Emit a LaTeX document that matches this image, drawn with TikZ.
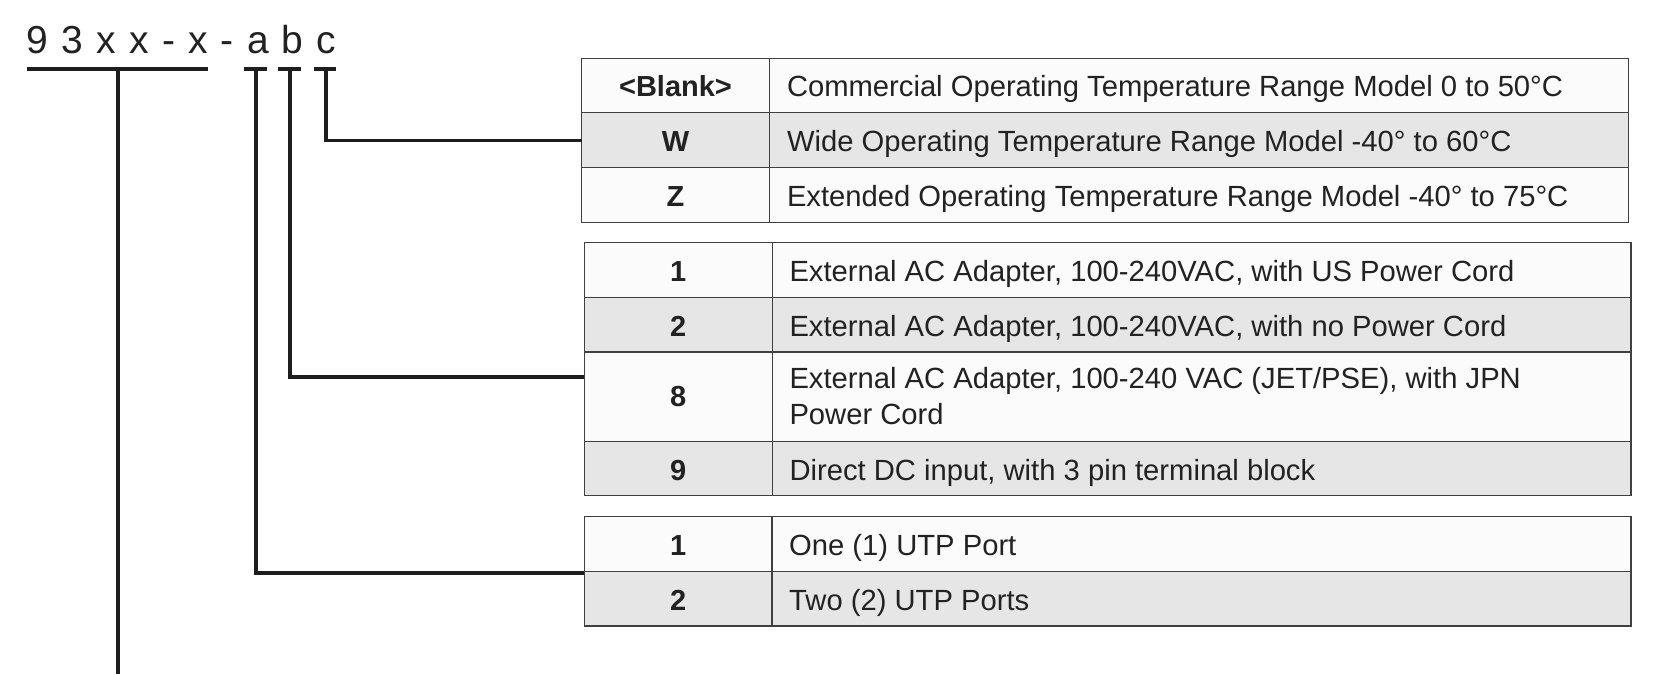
\documentclass[tikz,border=0pt]{standalone}
\usepackage{fontspec}
\setmainfont{Liberation Sans}
\definecolor{bordc}{HTML}{404040}
\definecolor{rowgray}{HTML}{E6E6E6}
\definecolor{rowwhite}{HTML}{FBFBFB}
\definecolor{inkc}{HTML}{222222}
\definecolor{connc}{HTML}{1E1E1E}
\newcommand\myheadfont{\fontsize{39}{44}\selectfont\spaceskip 13.2pt\relax}
\tikzset{
  cellbox/.style={draw=bordc, line width=1.5pt, inner sep=0pt, outer sep=0pt, anchor=north west},
  wcell/.style={cellbox, fill=rowwhite},
  gcell/.style={cellbox, fill=rowgray},
  codetxt/.style={inner sep=0pt, anchor=base, text=inkc, font=\fontsize{29}{36}\selectfont\bfseries},
  desctxt/.style={inner sep=0pt, anchor=base west, text=inkc, font=\fontsize{29.2}{36}\selectfont},
  conn/.style={draw=connc, line width=3.4pt, line cap=butt, line join=miter},
  uline/.style={draw=connc, line width=3.2pt},
  headtxt/.style={inner sep=0pt, anchor=base west, text=inkc, font=\myheadfont}
}
\begin{document}
\begin{tikzpicture}[x=1pt,y=-1pt]
\useasboundingbox[fill=white] (0,0) rectangle (1663,674);

% header
\node[headtxt] (head) at (26.7,53.3) {9 3 x x - x - a b c};

% underline end points
\coordinate (um1) at (26.7,69);  \coordinate (um2) at (208.3,69);
\coordinate (ua1) at (244,69);   \coordinate (ua2) at (267,69);
\coordinate (ub1) at (278,69);   \coordinate (ub2) at (301,69);
\coordinate (uc1) at (314,69);   \coordinate (uc2) at (336,69);
\coordinate (um) at (118,69);
\coordinate (ua) at (256,69);
\coordinate (ub) at (290,69);
\coordinate (uc) at (326,69);
\coordinate (mend) at (118,674);

% ---------- table 1 ----------
\node[wcell, minimum width=187.6pt, minimum height=54pt] (t1r1l) at (581.7,58.3) {};
\node[wcell, minimum width=859pt,   minimum height=54pt] (t1r1r) at (769.3,58.3) {};
\node[gcell, minimum width=187.6pt, minimum height=55pt] (t1r2l) at (581.7,112.3) {};
\node[gcell, minimum width=859pt,   minimum height=55pt] (t1r2r) at (769.3,112.3) {};
\node[wcell, minimum width=187.6pt, minimum height=55pt] (t1r3l) at (581.7,167.3) {};
\node[wcell, minimum width=859pt,   minimum height=55pt] (t1r3r) at (769.3,167.3) {};

\node[codetxt] (c11) at (675.5,97) {<Blank>};
\node[desctxt] (d11) at (786.8,97) {Commercial Operating Temperature Range Model 0 to 50°C};
\node[codetxt] (c12) at (675.5,151.5) {W};
\node[desctxt] (d12) at (786.8,151.5) {Wide Operating Temperature Range Model -40° to 60°C};
\node[codetxt] (c13) at (675.5,206.5) {Z};
\node[desctxt] (d13) at (786.8,206.5) {Extended Operating Temperature Range Model -40° to 75°C};

% ---------- table 2 ----------
\node[wcell, minimum width=188pt,   minimum height=55pt] (t2r1l) at (584.3,242.5) {};
\node[wcell, minimum width=858.7pt, minimum height=55pt] (t2r1r) at (772.3,242.5) {};
\node[gcell, minimum width=188pt,   minimum height=54.5pt] (t2r2l) at (584.3,297.5) {};
\node[gcell, minimum width=858.7pt, minimum height=54.5pt] (t2r2r) at (772.3,297.5) {};
\node[wcell, minimum width=188pt,   minimum height=89.7pt] (t2r3l) at (584.3,352) {};
\node[wcell, minimum width=858.7pt, minimum height=89.7pt] (t2r3r) at (772.3,352) {};
\node[gcell, minimum width=188pt,   minimum height=54pt] (t2r4l) at (584.3,441.7) {};
\node[gcell, minimum width=858.7pt, minimum height=54pt] (t2r4r) at (772.3,441.7) {};

\node[codetxt] (c21) at (678.3,281.7) {1};
\node[desctxt] (d21) at (789.3,281.7) {External AC Adapter, 100-240VAC, with US Power Cord};
\node[codetxt] (c22) at (678.3,336.3) {2};
\node[desctxt] (d22) at (789.3,336.3) {External AC Adapter, 100-240VAC, with no Power Cord};
\node[codetxt] (c23) at (678.3,406.5) {8};
\node[desctxt] (d23a) at (789.3,388.3) {External AC Adapter, 100-240 VAC (JET/PSE), with JPN};
\node[desctxt] (d23b) at (789.3,424.3) {Power Cord};
\node[codetxt] (c24) at (678.3,480.3) {9};
\node[desctxt] (d24) at (789.3,480.3) {Direct DC input, with 3 pin terminal block};

% ---------- table 3 ----------
\node[wcell, minimum width=187.7pt, minimum height=55pt] (t3r1l) at (584.3,516.7) {};
\node[wcell, minimum width=859pt,   minimum height=55pt] (t3r1r) at (772,516.7) {};
\node[gcell, minimum width=187.7pt, minimum height=54.3pt] (t3r2l) at (584.3,571.7) {};
\node[gcell, minimum width=859pt,   minimum height=54.3pt] (t3r2r) at (772,571.7) {};

\node[codetxt] (c31) at (678.1,555.7) {1};
\node[desctxt] (d31) at (789,555.7) {One (1) UTP Port};
\node[codetxt] (c32) at (678.1,610.5) {2};
\node[desctxt] (d32) at (789,610.5) {Two (2) UTP Ports};

% connector ends on the tables
\coordinate (tc) at (581.7,140.5);
\coordinate (tb) at (584.3,377);
\coordinate (ta) at (584.3,573);

% underlines
\draw[uline] (um1) -- (um2);
\draw[uline] (ua1) -- (ua2);
\draw[uline] (ub1) -- (ub2);
\draw[uline] (uc1) -- (uc2);

% connectors
\draw[conn] (um) -- (mend);
\draw[conn] (uc) |- (tc);
\draw[conn] (ub) |- (tb);
\draw[conn] (ua) |- (ta);
\end{tikzpicture}
\end{document}
